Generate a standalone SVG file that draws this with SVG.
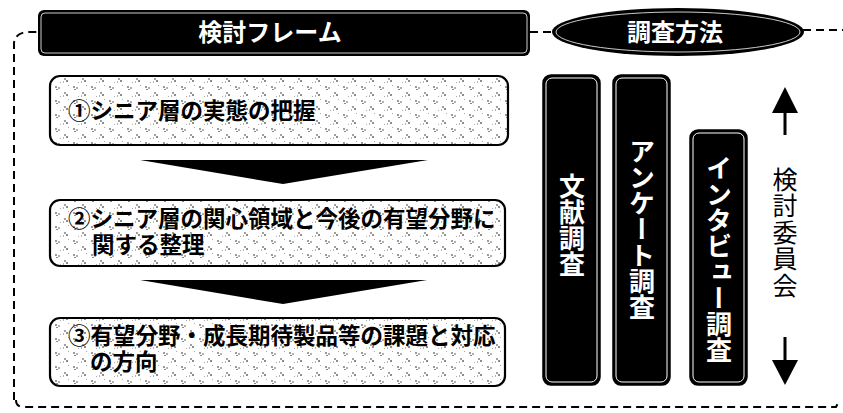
<svg xmlns="http://www.w3.org/2000/svg" width="843" height="413" viewBox="0 0 843 413">
<defs>
<pattern id="spk" width="18" height="14" patternUnits="userSpaceOnUse">
<rect width="18" height="14" fill="#fff"/>
<rect x="1" y="2" width="2" height="2" fill="#9a9a9a"/>
<rect x="4" y="3" width="2" height="2" fill="#b0b0b0"/>
<rect x="2" y="5" width="2" height="1" fill="#888"/>
<rect x="10" y="8" width="2" height="2" fill="#a0a0a0"/>
<rect x="12" y="10" width="2" height="2" fill="#8c8c8c"/>
<rect x="9" y="11" width="1" height="2" fill="#b4b4b4"/>
<rect x="14" y="1" width="1" height="1" fill="#aaa"/>
<rect x="6" y="12" width="1" height="1" fill="#aaa"/>
</pattern>
<style>
.dash{fill:none;stroke:#000;stroke-width:2;stroke-dasharray:8 5}
.box{fill:url(#spk);stroke:#000;stroke-width:2.2}
.bt{font-family:"Noto Sans CJK JP","Noto Sans",sans-serif;font-size:22.5px;font-weight:700;fill:#000}
.bar{fill:#000;stroke:#000;stroke-width:1.5}
.barin{fill:none;stroke:#fff;stroke-width:1}
.vt{font-family:"Noto Sans CJK JP",sans-serif;font-size:26px;font-weight:700;fill:#fff;writing-mode:vertical-rl;text-anchor:middle}
.hd{font-family:"Noto Sans CJK JP",sans-serif;font-size:24px;font-weight:700;fill:#fff;text-anchor:middle}
.arr{fill:#000}
</style>
</defs>
<g id="connectors">
<path class="dash" d="M14,400 L14,44 Q14,34 26,32 L38,32"/>
<path class="dash" d="M530,32 L552,32"/>
<path class="dash" d="M803,30 L843,30"/>
<path class="dash" d="M16,400 Q16,407 24,407 L836,407 L838,403"/>
<polygon class="arr" points="140,160 428,160 283,184"/>
<polygon class="arr" points="140,280 427,280 283,304"/>
</g>
<g id="title-frame">
<rect x="38" y="10" width="492" height="46" rx="6" fill="#000"/>
<rect x="41" y="13" width="486" height="40" rx="4" fill="none" stroke="#fff" stroke-width="0.8"/>
<text class="hd" x="270" y="41">検討フレーム</text>
</g>
<g id="title-method">
<ellipse cx="678" cy="32" rx="126" ry="24" fill="#000"/>
<ellipse cx="678" cy="32" rx="122" ry="20" fill="none" stroke="#fff" stroke-width="0.8"/>
<text class="hd" x="675" y="41">調査方法</text>
</g>
<g id="step1">
<rect class="box" x="50" y="76" width="458" height="69" rx="10"/>
<text class="bt" x="68" y="119">①シニア層の実態の把握</text>
</g>
<g id="step2">
<rect class="box" x="50" y="200" width="455" height="66" rx="10"/>
<text class="bt" x="68" y="227">②シニア層の関心領域と今後の有望分野に<tspan x="92" y="253">関する整理</tspan></text>
</g>
<g id="step3">
<rect class="box" x="50" y="318" width="455" height="68" rx="10"/>
<text class="bt" x="68" y="344">③有望分野・成長期待製品等の課題と対応<tspan x="90" y="370">の方向</tspan></text>
</g>
<g id="bar-literature">
<rect class="bar" x="543" y="75" width="57" height="310" rx="8"/>
<rect class="barin" x="546" y="78" width="51" height="304" rx="6"/>
<text class="vt" x="572" y="225">文献調査</text>
</g>
<g id="bar-questionnaire">
<rect class="bar" x="613" y="75" width="57" height="310" rx="8"/>
<rect class="barin" x="616" y="78" width="51" height="304" rx="6"/>
<text class="vt" x="642" y="229">アンケート調査</text>
</g>
<g id="bar-interview">
<rect class="bar" x="690" y="130" width="57" height="255" rx="8"/>
<rect class="barin" x="693" y="133" width="51" height="249" rx="6"/>
<text class="vt" x="719" y="259">インタビュー調査</text>
</g>
<g id="committee">
<polygon class="arr" points="785,87 798,113 772,113"/>
<rect x="783.5" y="112" width="3" height="23" fill="#000"/>
<text x="785" y="233" font-family="'Noto Sans CJK JP',sans-serif" font-size="25" fill="#000" style="writing-mode:vertical-rl;text-anchor:middle;letter-spacing:1.5px">検討委員会</text>
<rect x="783.5" y="337" width="3" height="24" fill="#000"/>
<polygon class="arr" points="772,360 798,360 785,385"/>
</g>
</svg>
